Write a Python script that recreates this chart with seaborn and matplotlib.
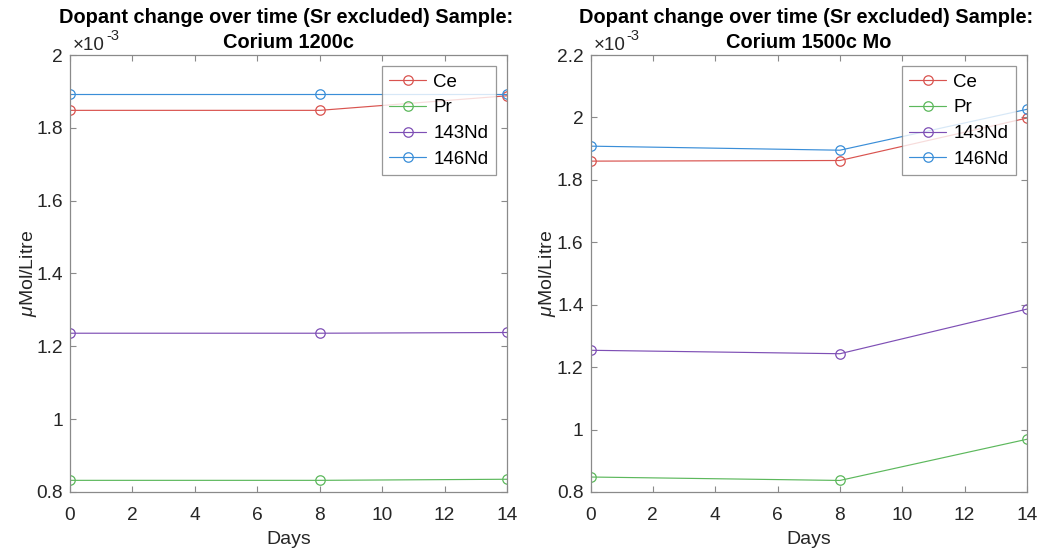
import matplotlib
matplotlib.use("Agg")
import matplotlib.pyplot as plt
import seaborn as sns
import numpy as np
from matplotlib.ticker import FuncFormatter, MultipleLocator

days = [0, 8, 14]
series_names = ["Ce", "Pr", "143Nd", "146Nd"]
colors = ["#d9534f", "#5cb85c", "#7e4fb5", "#3a8ed8"]

# Corium 1200c (mol/L values)
s1_ce = [1.848e-3, 1.848e-3, 1.888e-3]
s1_pr = [0.832e-3, 0.832e-3, 0.835e-3]
s1_nd143 = [1.236e-3, 1.236e-3, 1.238e-3]
s1_nd146 = [1.892e-3, 1.892e-3, 1.892e-3]

# Corium 1500c Mo
s2_ce = [1.860e-3, 1.862e-3, 1.998e-3]
s2_pr = [0.848e-3, 0.837e-3, 0.969e-3]
s2_nd143 = [1.254e-3, 1.243e-3, 1.386e-3]
s2_nd146 = [1.908e-3, 1.895e-3, 2.026e-3]

title_line1 = "Dopant change over time (Sr excluded) Sample:"
title_line2 = ["Corium 1200c", "Corium 1500c Mo"]
ylims = [(0.8e-3, 2.0e-3), (0.8e-3, 2.2e-3)]
x_ticks = [0, 2, 4, 6, 8, 10, 12, 14]

sns.set_style("ticks")
plt.rcParams["font.family"] = ["Liberation Sans", "DejaVu Sans"]
plt.rcParams["mathtext.fontset"] = "custom"
plt.rcParams["mathtext.rm"] = "Liberation Sans"
plt.rcParams["mathtext.it"] = "Liberation Sans:italic"

fig = plt.figure(figsize=(10.44, 5.54), dpi=100)
W, H = 1044, 554
axes_px = [(70, 507), (590.5, 1027)]
top_px, bot_px = 55, 492
ylabel_pads = [-1.5, -1.0]

datasets = [[s1_ce, s1_pr, s1_nd143, s1_nd146], [s2_ce, s2_pr, s2_nd143, s2_nd146]]
spine_c = "#8a8a8a"
text_c = "#262626"

for i, (x0, x1) in enumerate(axes_px):
    ax = fig.add_axes([x0 / W, 1 - bot_px / H, (x1 - x0) / W, (bot_px - top_px) / H])
    for name, vals, c in zip(series_names, datasets[i], colors):
        sns.lineplot(x=days, y=vals, ax=ax, color=c, marker="o", markersize=6.8,
                     markerfacecolor="none", markeredgecolor=c, markeredgewidth=0.9,
                     linewidth=0.85, label=name, errorbar=None)
    ax.set_xlim(0, 14)
    ax.set_ylim(*ylims[i])
    ax.set_xticks(x_ticks)
    ax.yaxis.set_major_locator(MultipleLocator(0.2e-3))
    ax.yaxis.set_major_formatter(FuncFormatter(lambda v, p: f"{v * 1e3:.4g}"))
    ax.tick_params(direction="in", top=True, right=True, length=4, width=0.8,
                   color=spine_c, labelcolor=text_c, labelsize=13.8)
    ax.tick_params(axis="y", pad=5)
    ax.tick_params(axis="x", pad=10.5)
    for sp in ax.spines.values():
        sp.set_color(spine_c)
        sp.set_linewidth(0.9)
    ax.set_xlabel("Days", fontsize=14, color=text_c, labelpad=5.5)
    ax.set_ylabel(r"$\mu$Mol/Litre", fontsize=14, color=text_c, labelpad=ylabel_pads[i])
    # two-line title
    ax.annotate(title_line1, xy=(0.5, 1), xycoords="axes fraction", xytext=(-2, 23),
                textcoords="offset points", ha="center", va="baseline",
                fontsize=14.4, fontweight="bold", color="black")
    ax.annotate(title_line2[i], xy=(0.5, 1), xycoords="axes fraction", xytext=(0, 5),
                textcoords="offset points", ha="center", va="baseline",
                fontsize=14.4, fontweight="bold", color="black")
    # exponent marker
    ax.annotate("×10", xy=(0, 1), xycoords="axes fraction", xytext=(2, 3.6),
                textcoords="offset points", ha="left", va="baseline",
                fontsize=13.5, color=text_c)
    ax.annotate("-3", xy=(0, 1), xycoords="axes fraction", xytext=(26, 10.5),
                textcoords="offset points", ha="left", va="baseline",
                fontsize=10.5, color=text_c)
    pad = 11 / (x1 - x0)
    leg = ax.legend(loc="upper right", bbox_to_anchor=(1 - pad, 1 - 11 / (bot_px - top_px)),
                    borderaxespad=0, fontsize=13.5, frameon=True, fancybox=False,
                    edgecolor="#7f7f7f", handlelength=1.95, handletextpad=0.4,
                    labelspacing=0.46, borderpad=0.4)
    leg.get_frame().set_linewidth(0.9)
    for t in leg.get_texts():
        t.set_color("black")

fig.savefig("out.png", dpi=100)
